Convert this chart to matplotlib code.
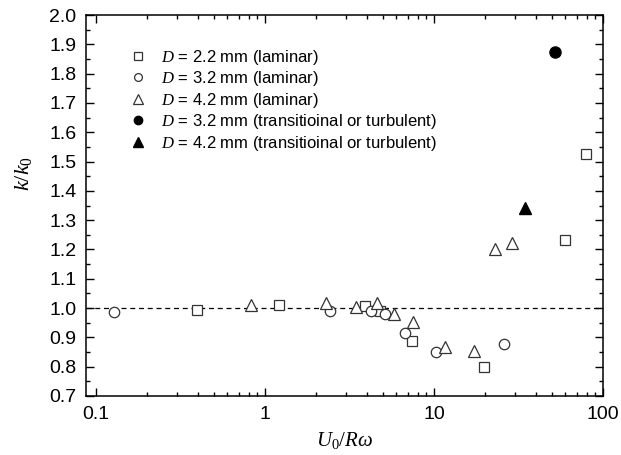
import matplotlib
matplotlib.use("Agg")
import matplotlib.pyplot as plt
from matplotlib.ticker import MultipleLocator, FixedLocator, NullFormatter

plt.rcParams['font.family'] = ['Liberation Sans', 'DejaVu Sans']
plt.rcParams['mathtext.fontset'] = 'custom'
plt.rcParams['mathtext.rm'] = 'Liberation Serif'
plt.rcParams['mathtext.it'] = 'Liberation Serif:italic'

# data
sq_x = [0.394, 1.216, 3.91, 4.79, 7.38, 19.9, 59.6, 79.3]
sq_y = [0.995, 1.010, 1.007, 0.990, 0.887, 0.798, 1.232, 1.526]

ci_x = [0.128, 2.43, 4.24, 5.13, 6.73, 10.3, 25.9]
ci_y = [0.987, 0.991, 0.990, 0.980, 0.914, 0.849, 0.879]

tr_x = [0.826, 2.30, 3.45, 4.58, 5.80, 7.55, 11.6, 17.3, 22.96, 28.8]
tr_y = [1.010, 1.018, 1.004, 1.016, 0.980, 0.953, 0.868, 0.854, 1.201, 1.221]

fci_x = [52.0]
fci_y = [1.873]

ftr_x = [34.5]
ftr_y = [1.341]

labels = [r'$D$ = 2.2 mm (laminar)',
          r'$D$ = 3.2 mm (laminar)',
          r'$D$ = 4.2 mm (laminar)',
          r'$D$ = 3.2 mm (transitioinal or turbulent)',
          r'$D$ = 4.2 mm (transitioinal or turbulent)']

fig = plt.figure(figsize=(6.21, 4.55), dpi=100)
ax = fig.add_axes([0.1385, 0.1297, 0.8325, 0.8373])

ax.axhline(1.0, color='black', lw=0.9, ls=(0, (4, 3)), zorder=1)

ax.plot(sq_x, sq_y, 's', ms=7, mfc='white', mec='#333333', mew=0.9, label=labels[0], zorder=3)
ax.plot(ci_x, ci_y, 'o', ms=7.5, mfc='white', mec='#333333', mew=0.9, label=labels[1], zorder=3)
ax.plot(tr_x, tr_y, '^', ms=9, mfc='white', mec='#333333', mew=0.9, label=labels[2], zorder=3)
ax.plot(fci_x, fci_y, 'o', ms=8, mfc='black', mec='black', label=labels[3], zorder=3)
ax.plot(ftr_x, ftr_y, '^', ms=9, mfc='black', mec='black', label=labels[4], zorder=3)

ax.set_xscale('log')
ax.set_xlim(0.0873, 100)
ax.set_ylim(0.7, 2.0)

ax.set_xticks([0.1, 1, 10, 100])
ax.set_xticklabels(['0.1', '1', '10', '100'])
minors = [m * 10.0 ** e for e in (-1, 0, 1) for m in range(2, 10)]
ax.xaxis.set_minor_locator(FixedLocator(minors))
ax.xaxis.set_minor_formatter(NullFormatter())
ax.yaxis.set_major_locator(MultipleLocator(0.1))
ax.yaxis.set_minor_locator(MultipleLocator(0.05))
ax.yaxis.set_major_formatter(matplotlib.ticker.FormatStrFormatter('%.1f'))

ax.tick_params(which='both', direction='in', top=True, right=True, width=1.0)
ax.tick_params(which='major', length=6, labelsize=14, pad=7)
ax.tick_params(which='minor', length=3)
for s in ax.spines.values():
    s.set_linewidth(1.1)

ax.set_xlabel(r'$U_{\mathrm{0}}/R\omega$', fontsize=15, labelpad=5)
ax.set_ylabel(r'$k/k_{\mathrm{0}}$', fontsize=16)
ax.yaxis.set_label_coords(-0.10, 0.585)

leg = ax.legend(loc='upper left', bbox_to_anchor=(0.061, 0.945), frameon=False,
                fontsize=12, markerscale=0.75, handlelength=1.0,
                handletextpad=0.88, labelspacing=0.15, borderpad=0.2)

fig.savefig("out.png", dpi=100)
